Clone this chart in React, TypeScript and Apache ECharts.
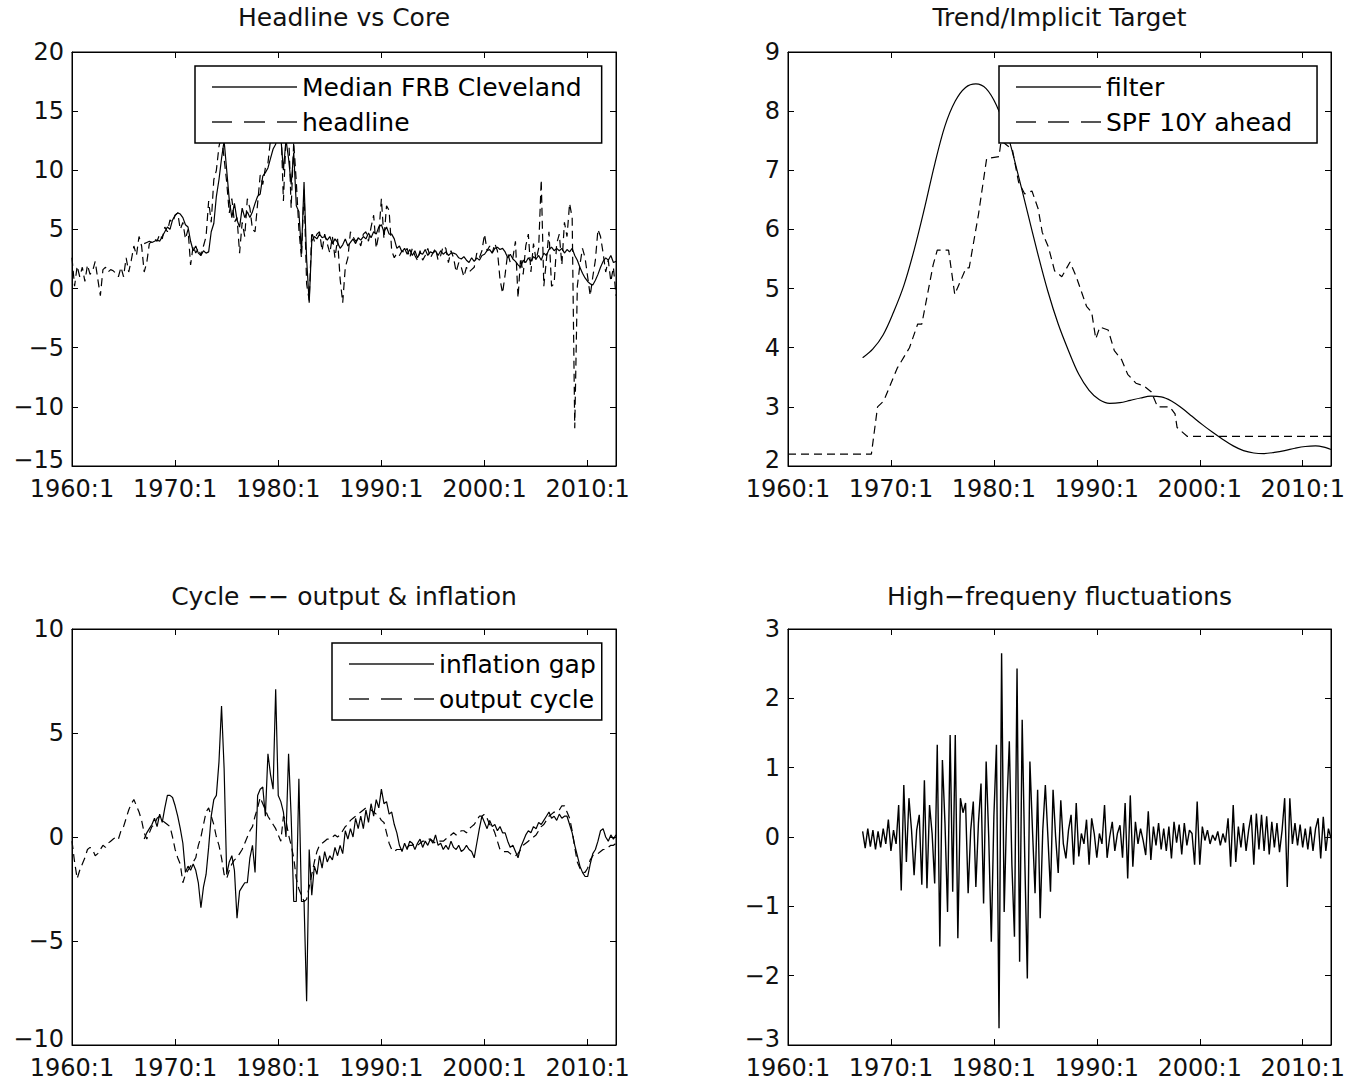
import React, { useEffect, useRef } from "react";
import * as echarts from "echarts";

// ---------------- DATA (quarterly, 1960:1 = 1960.00) ----------------
const xTickYears = [1960, 1970, 1980, 1990, 2000, 2010];

// Headline CPI inflation, 1960:1 - 2012:4
const headlineStart = 1960;
const headline = [
  2.6, 0.2, 1.9, 1.0, 1.8, 0.6, 2.0, 1.2, 1.5, 2.3, 0.8, -0.6, 1.6, 1.8, 1.4, 1.6,
  1.5, 1.3, 1.0, 1.8, 1.0, 2.6, 1.4, 2.4, 3.6, 2.8, 4.4, 3.6, 1.4, 2.2, 3.8, 4.0,
  4.2, 4.0, 4.6, 4.2, 5.2, 4.8, 5.8, 5.6, 6.2, 6.4, 5.0, 5.6, 4.2, 5.0, 2.0, 3.6,
  3.0, 3.4, 2.8, 3.6, 4.4, 7.4, 5.6, 9.2, 10.0, 12.0, 13.0, 11.0, 9.0, 6.4, 7.6, 5.6,
  6.0, 3.0, 5.6, 4.4, 7.6, 6.8, 5.0, 4.8, 7.2, 9.6, 8.8, 10.2, 10.6, 12.6, 13.6, 14.2,
  15.6, 14.0, 7.4, 12.8, 13.4, 6.8, 12.4, 9.0, 5.0, 2.6, 8.4, 0.4, -1.0, 4.8, 4.0, 4.6,
  4.8, 3.2, 4.6, 3.8, 3.0, 4.4, 2.6, 4.2, 0.8, -1.2, 1.8, 2.6, 4.8, 4.4, 4.0, 4.2,
  3.6, 4.6, 4.8, 4.0, 5.2, 6.2, 3.4, 4.6, 7.6, 4.2, 7.0, 6.6, 3.2, 2.6, 3.0, 2.8,
  3.2, 3.0, 3.4, 2.6, 3.4, 2.8, 2.4, 3.2, 2.4, 2.8, 3.4, 2.6, 3.0, 3.4, 2.4, 2.8,
  3.6, 3.4, 2.2, 3.2, 2.6, 1.4, 2.2, 1.8, 1.0, 1.8, 1.4, 1.6, 1.8, 3.0, 2.6, 3.2,
  4.6, 3.2, 3.6, 3.0, 3.8, 3.2, 0.8, -0.4, 1.2, 3.0, 2.2, 2.6, 4.0, -0.8, 2.6, 1.2,
  3.6, 4.6, 1.4, 3.8, 2.4, 3.4, 9.2, 0.2, 2.4, 4.8, 0.2, 0.4, 3.8, 4.6, 2.0, 5.6,
  4.4, 7.2, 6.0, -11.8, 0.2, 2.0, 3.4, 2.6, 1.0, -0.6, 1.0, 2.4, 5.0, 4.4, 3.0, 1.4,
  2.4, 0.6, 1.8, -0.6,
];

// Median CPI (FRB Cleveland), 1967:1 - 2012:4
const medianStart = 1967;
const medianCore = [
  3.8, 3.9, 4.0, 3.9, 4.0, 4.1, 4.0, 4.4, 4.8, 5.2, 5.0, 5.8, 6.2, 6.4, 6.3, 6.0,
  5.4, 5.2, 4.0, 3.2, 3.6, 3.0, 2.8, 3.2, 3.0, 3.1, 4.8, 5.5, 7.8, 9.2, 11.0, 12.5,
  10.0, 7.5, 6.0, 7.2, 5.8, 5.2, 6.8, 6.0, 6.5, 6.0, 6.5, 7.2, 7.8, 8.0, 9.5, 9.8,
  10.2, 11.0, 11.8, 12.2, 13.5, 12.8, 10.0, 12.6, 11.0, 8.8, 11.5, 7.0, 6.5, 3.0, 9.0, 2.5,
  -1.2, 4.0, 4.4, 4.2, 4.6, 4.3, 4.4, 4.1, 4.4, 3.8, 4.2, 3.9, 3.4, 3.7, 4.2, 3.6,
  3.9, 4.2, 3.8, 4.3, 4.1, 4.4, 4.2, 4.7, 4.3, 4.8, 4.6, 5.2, 5.4, 4.8, 5.2, 4.6,
  4.6, 4.2, 3.4, 3.6, 3.1, 3.4, 2.9, 3.3, 2.8, 3.2, 2.6, 3.0, 2.9, 3.3, 2.8, 3.1,
  3.0, 3.2, 2.8, 3.2, 2.9, 3.1, 2.8, 3.0, 3.0, 2.9, 2.6, 2.5, 2.7, 2.4, 2.2, 2.6,
  2.3, 2.6, 2.4, 2.8, 2.9, 3.2, 3.3, 3.0, 3.4, 3.5, 3.3, 3.4, 3.1, 2.6, 2.9, 2.5,
  2.3, 2.0, 1.8, 2.4, 2.2, 2.6, 2.3, 2.7, 2.5, 2.8, 2.4, 3.0, 2.8, 3.3, 3.5, 3.2,
  3.4, 3.2, 3.4, 3.0, 3.3, 3.1, 3.4, 2.8, 2.4, 1.8, 1.3, 0.9, 0.6, 0.4, 0.3, 0.7,
  1.2, 1.8, 2.3, 2.6, 2.4, 2.8, 2.2, 2.3,
];

// Filtered trend (year, value)
const filterYears = [
  1967.25, 1968.25, 1969.25, 1970.25, 1971.25, 1972.25, 1973.25, 1974.25, 1975.25, 1976.25,
  1977.25, 1978.25, 1979.25, 1980.25, 1981.25, 1982.25, 1983.25, 1984.25, 1985.25, 1986.25,
  1987.25, 1988.25, 1989.25, 1990.25, 1991.25, 1992.25, 1993.25, 1994.25, 1995.25, 1996.25,
  1997.25, 1998.25, 1999.25, 2000.25, 2001.25, 2002.25, 2003.25, 2004.25, 2005.25, 2006.25,
  2007.25, 2008.25, 2009.25, 2010.25, 2011.25, 2012.25, 2012.75,
];
const filterValues = [
  3.83, 3.98, 4.22, 4.6, 5.05, 5.65, 6.35, 7.1, 7.75, 8.17,
  8.4, 8.46, 8.38, 8.1, 7.65, 7.0, 6.3, 5.6, 4.95, 4.4,
  3.95, 3.55, 3.28, 3.12, 3.06, 3.07, 3.11, 3.15, 3.18, 3.17,
  3.1, 2.98, 2.84, 2.7, 2.57, 2.45, 2.34, 2.26, 2.22, 2.21,
  2.23, 2.26, 2.3, 2.33, 2.34, 2.31, 2.28,
];

// SPF 10-year-ahead expected inflation (year, value)
const spfYears = [
  1960, 1968.1, 1968.7, 1969.3, 1970.6, 1971.8, 1972.6, 1973.0, 1974.1, 1974.5,
  1975.6, 1976.2, 1977.3, 1977.6, 1978.5, 1979.3, 1980.5, 1980.7, 1981.8, 1982.4,
  1983.0, 1983.7, 1984.3, 1984.7, 1985.3, 1985.9, 1986.6, 1987.4, 1988.0, 1988.6,
  1989.0, 1989.5, 1989.9, 1990.3, 1991.1, 1991.7, 1992.4, 1993.0, 1993.8, 1994.6,
  1995.3, 1995.9, 1997.1, 1997.6, 1997.8, 1998.8, 2012.75,
];
const spfValues = [
  2.2, 2.2, 3.0, 3.1, 3.65, 4.0, 4.4, 4.4, 5.4, 5.65,
  5.65, 4.9, 5.35, 5.35, 6.25, 7.2, 7.23, 7.5, 7.35, 6.8,
  6.6, 6.65, 6.35, 5.95, 5.7, 5.3, 5.2, 5.45, 5.2, 4.9,
  4.7, 4.6, 4.15, 4.35, 4.3, 3.95, 3.8, 3.55, 3.4, 3.35,
  3.25, 3.0, 3.0, 2.88, 2.65, 2.5, 2.5,
];

// Inflation gap, 1967:1 - 2012:4
const gapStart = 1967;
const inflationGap = [
  -0.1, 0.2, 0.4, 0.6, 0.9, 0.5, 1.1, 0.7, 1.4, 2.0, 2.0, 1.9, 1.5, 1.0, 0.4, -0.3,
  -1.7, -1.4, -1.6, -1.3, -1.6, -2.2, -3.4, -2.4, -1.8, -0.5, 1.0, 1.8, 2.0, 3.6, 6.3, 3.3,
  -1.8, -1.2, -0.9, -1.6, -3.9, -2.6, -2.4, -2.2, -2.2, -1.0, -0.4, -1.7, 2.0, 2.3, 2.4, 1.0,
  4.0, 3.0, 2.3, 7.1, 2.0, 1.7, 1.2, 0.0, 4.0, 1.0, -3.1, -3.1, 2.8, -3.1, -3.1, -7.9,
  -0.6, -2.8, -1.4, -1.8, -0.9, -1.5, -0.7, -1.2, -0.9, -1.1, -0.5, -0.9, -0.4, -0.8, 0.3, -0.1,
  0.4, 0.0, 0.9, 0.4, 1.0, 0.4, 1.3, 0.7, 1.6, 1.0, 1.8, 1.4, 2.3, 1.6, 1.7, 1.1,
  1.2, 0.6, 0.2, -0.4, -0.7, -0.3, -0.6, -0.2, -0.3, -0.6, -0.3, -0.1, -0.5, -0.2, -0.4, -0.1,
  -0.3, 0.1, -0.4, -0.3, -0.6, -0.4, -0.6, -0.2, -0.5, -0.6, -0.4, -0.7, -0.6, -0.4, -0.6, -0.7,
  -1.0, -0.3, 0.4, 1.0, 0.7, 0.4, 0.8, 0.5, 0.6, 0.3, 0.5, 0.2, 0.2, -0.2, -0.5, -0.4,
  -0.7, -1.0, -0.5, -0.2, 0.1, 0.3, 0.2, 0.5, 0.4, 0.7, 0.6, 0.8, 1.0, 1.2, 0.9, 1.0,
  0.8, 1.1, 0.9, 1.0, 1.0, 0.6, 0.2, -0.4, -0.9, -1.4, -1.7, -1.9, -1.9, -1.3, -0.8, -0.6,
  -0.2, 0.3, 0.4, 0.0, -0.2, 0.1, -0.1, 0.1,
];

// Output cycle, 1960:1 - 2012:4
const outputStart = 1960;
const outputCycle = [
  -0.2, -1.2, -2.0, -1.6, -1.3, -1.0, -0.6, -0.5, -0.6, -0.9, -0.8, -0.6, -0.4, -0.5, -0.3, -0.2,
  -0.1, 0.0, -0.1, 0.3, 0.5, 0.9, 1.3, 1.6, 1.8, 1.5, 1.2, 0.8, 0.2, -0.1, 0.2, 0.5,
  0.6, 0.9, 1.0, 0.8, 0.7, 0.6, 0.5, 0.0, -0.6, -1.0, -1.3, -2.2, -1.8, -1.6, -1.4, -1.2,
  -1.0, -0.4, 0.0, 0.6, 1.2, 1.4, 1.0, 0.6, 0.0, -0.4, -1.0, -1.8, -2.0, -1.6, -1.3, -1.1,
  -1.0, -0.8, -0.6, -0.3, 0.0, 0.3, 0.5, 1.0, 1.4, 1.9, 1.6, 1.3, 1.0, 0.8, 0.6, 0.4,
  0.1, -0.2, 1.0, 0.8, 0.1, -0.4, -1.0, -2.0, -2.5, -2.8, -3.1, -3.0, -2.4, -1.8, -1.2, -0.7,
  -0.4, -0.3, -0.2, -0.1, -0.1, 0.0, 0.1, 0.0, 0.1, 0.3, 0.5, 0.6, 0.8, 0.9, 1.0, 1.1,
  1.2, 1.3, 1.4, 1.4, 1.3, 1.2, 1.1, 1.0, 0.8, 0.7, 0.2, -0.3, -0.6, -0.7, -0.6, -0.6,
  -0.6, -0.5, -0.5, -0.4, -0.4, -0.3, -0.4, -0.3, -0.2, -0.2, -0.1, -0.1, -0.2, -0.3, -0.2, -0.2,
  -0.2, -0.1, 0.0, 0.1, 0.2, 0.1, 0.2, 0.3, 0.3, 0.2, 0.4, 0.5, 0.6, 0.8, 1.0, 1.0,
  1.1, 0.9, 0.6, 0.5, 0.2, -0.2, -0.6, -0.7, -0.7, -0.7, -0.8, -0.9, -0.9, -0.8, -0.6, -0.4,
  -0.3, -0.2, -0.1, 0.0, 0.1, 0.3, 0.5, 0.6, 0.8, 1.0, 1.1, 1.2, 1.2, 1.3, 1.5, 1.5,
  1.2, 0.9, 0.3, -0.5, -1.2, -1.5, -1.7, -1.7, -1.5, -1.1, -0.9, -0.8, -0.8, -0.7, -0.6, -0.6,
  -0.5, -0.4, -0.4, -0.3,
];

// High-frequency fluctuations, 1967:2 - 2012:4
const hfStart = 1967.25;
const highFreq = [
  0.08, -0.16, 0.12,
  -0.14, 0.1, -0.18, 0.08, -0.15, 0.12, -0.1, 0.25, -0.2, 0.1, -0.1, 0.46,
  -0.77, 0.75, -0.36, 0.56, 0.1, -0.55, 0.1, 0.32, -0.69, 0.82, -0.74, 0.46,
  0.05, -0.67, 1.33, -1.58, 1.11, 0.2, -1.08, 1.47, -0.79, 1.47, -1.46, 0.56,
  0.35, 0.49, -0.81, 0.1, 0.51, -0.72, 0.2, 0.77, -0.96, 1.09, 0.0, -1.51,
  0.3, 1.33, -2.76, 2.65, -1.08, 0.4, 1.38, -0.4, -1.44, 2.43, -1.8, 1.69,
  -0.3, -2.04, 1.09, 0.1, -0.81, 0.68, -1.17, 0.1, 0.75, 0.0, -0.79, 0.68,
  0.0, -0.52, 0.53, -0.1, -0.31, 0.1, 0.32, -0.4, 0.49, -0.28, 0.05, -0.1,
  0.25, -0.4, 0.27, 0.05, -0.3, 0.05, -0.1, 0.46, -0.3, 0.0, 0.22, -0.2,
  0.05, 0.17, -0.3, 0.49, -0.6, 0.6, -0.43, 0.22, -0.1, 0.12, -0.05, -0.26,
  0.37, -0.33, 0.15, -0.12, 0.2, -0.18, 0.12, -0.2, 0.15, -0.31, 0.22, -0.08,
  0.18, -0.25, 0.2, -0.12, 0.1, 0.05, -0.4, 0.51, -0.4, 0.15, -0.05, 0.1,
  -0.1, 0.03, -0.05, 0.08, -0.12, 0.05, -0.08, 0.27, -0.43, 0.46, -0.36, 0.15,
  -0.15, 0.2, -0.2, 0.1, 0.32, -0.4, 0.34, -0.18, 0.32, -0.2, 0.3, -0.25,
  0.22, -0.15, 0.2, -0.22, 0.1, 0.56, -0.72, 0.56, -0.1, 0.2, -0.12, 0.18,
  -0.15, 0.12, -0.18, 0.15, -0.2, 0.12, 0.27, -0.31, 0.29, -0.2, 0.12, -0.02,
];

// ---------------- HELPERS ----------------
const quarterly = (start: number, values: number[]) =>
  values.map((v, i) => [start + i / 4, v]);
const paired = (xs: number[], ys: number[]) => xs.map((x, i) => [x, ys[i]]);

const FONT = "'DejaVu Sans', 'Liberation Sans', Arial, sans-serif";
const X_MIN = 1960;
const X_MAX = 2012.75;

const panels = [
  { left: 72, top: 52, width: 544, height: 414, yMin: -15, yMax: 20, yInt: 5, title: "Headline vs Core", titleTop: 5 },
  { left: 788, top: 52, width: 543, height: 414, yMin: 2, yMax: 9, yInt: 1, title: "Trend/Implicit Target", titleTop: 5 },
  { left: 72, top: 629, width: 544, height: 416, yMin: -10, yMax: 10, yInt: 5, title: "Cycle \u2212\u2212 output & inflation", titleTop: 584 },
  { left: 788, top: 629, width: 543, height: 416, yMin: -3, yMax: 3, yInt: 1, title: "High\u2212frequeny fluctuations", titleTop: 584 },
];

const SOLID_ICON = "path://M0,0H85V2H0Z";
const DASH_ICON = "path://M0,0H20V2H0Z M32,0H53V2H32Z M65,0H85V2H65Z";

function buildOption() {
  const grid: any[] = [];
  const xAxis: any[] = [];
  const yAxis: any[] = [];
  const title: any[] = [];
  panels.forEach((p, i) => {
    grid.push({
      left: p.left, top: p.top, width: p.width, height: p.height,
      show: true, borderColor: "#000", borderWidth: 1, backgroundColor: "transparent",
    });
    const tick = { show: true, inside: true, length: 6, lineStyle: { color: "#000", width: 1 } };
    const line = { show: true, onZero: false, lineStyle: { color: "#000", width: 1 } };
    xAxis.push({
      type: "value", gridIndex: i, min: X_MIN, max: X_MAX, interval: 10, position: "bottom",
      axisLine: line, axisTick: tick, splitLine: { show: false },
      axisLabel: {
        show: true, margin: 12, fontSize: 24, lineHeight: 22, fontFamily: FONT, color: "#111",
        formatter: (v: number) => (xTickYears.indexOf(v) >= 0 ? `${v}:1` : ""),
      },
    });
    xAxis.push({
      type: "value", gridIndex: i, min: X_MIN, max: X_MAX, interval: 10, position: "top",
      axisLine: line, axisTick: tick, splitLine: { show: false }, axisLabel: { show: false },
    });
    const yMinVal = p.yMin;
    yAxis.push({
      type: "value", gridIndex: i, min: p.yMin, max: p.yMax, interval: p.yInt, position: "left",
      axisLine: line, axisTick: tick, splitLine: { show: false },
      axisLabel: {
        show: true, margin: 8, fontSize: 24, lineHeight: 20, fontFamily: FONT, color: "#111",
        formatter: (v: number) => {
          const s = String(v).replace("-", "\u2212");
          return v === yMinVal ? `{low|${s}}` : s;
        },
        rich: {
          low: { fontSize: 24, lineHeight: 20, fontFamily: FONT, color: "#111", padding: [0, 0, 12, 0] },
        },
      },
    });
    yAxis.push({
      type: "value", gridIndex: i, min: p.yMin, max: p.yMax, interval: p.yInt, position: "right",
      axisLine: line, axisTick: tick, splitLine: { show: false }, axisLabel: { show: false },
    });
    title.push({
      text: p.title, left: p.left + p.width / 2, top: p.titleTop, textAlign: "center", padding: 0,
      textStyle: { fontSize: 25, fontWeight: "normal", color: "#111", fontFamily: FONT },
    });
  });

  const lineSeries = (name: string, panel: number, data: number[][], dashed: boolean, width = 1.2, smooth: any = false) => ({
    name, type: "line", xAxisIndex: panel * 2, yAxisIndex: panel * 2, data,
    symbol: "none", showSymbol: false, smooth, clip: true, z: 2,
    lineStyle: { color: "#000", width, type: dashed ? [8, 5] : "solid" },
    itemStyle: { color: "#000" },
    emphasis: { disabled: true },
  });

  const series = [
    lineSeries("Median FRB Cleveland", 0, quarterly(medianStart, medianCore), false),
    lineSeries("headline", 0, quarterly(headlineStart, headline), true),
    lineSeries("filter", 1, paired(filterYears, filterValues), false, 1.2, 0.35),
    lineSeries("SPF 10Y ahead", 1, paired(spfYears, spfValues), true),
    lineSeries("inflation gap", 2, quarterly(gapStart, inflationGap), false),
    lineSeries("output cycle", 2, quarterly(outputStart, outputCycle), true),
    lineSeries("high-frequency", 3, quarterly(hfStart, highFreq), false, 1.4),
  ];

  const legendBase = {
    orient: "vertical", itemWidth: 85, itemHeight: 2, itemGap: 3,
    borderColor: "#000", borderWidth: 1.5, backgroundColor: "#fff", borderRadius: 0,
    selectedMode: false, z: 10,
    itemStyle: { color: "#555", borderWidth: 0 },
    textStyle: { fontSize: 25, lineHeight: 32, color: "#000", fontFamily: FONT },
  };
  const legend = [
    { ...legendBase, left: 195, top: 66, padding: [5, 20, 5, 17],
      data: [{ name: "Median FRB Cleveland", icon: SOLID_ICON }, { name: "headline", icon: DASH_ICON }] },
    { ...legendBase, left: 999, top: 66, padding: [5, 25, 5, 17],
      data: [{ name: "filter", icon: SOLID_ICON }, { name: "SPF 10Y ahead", icon: DASH_ICON }] },
    { ...legendBase, left: 332, top: 643, padding: [5, 6, 5, 17],
      data: [{ name: "inflation gap", icon: SOLID_ICON }, { name: "output cycle", icon: DASH_ICON }] },
  ];

  return {
    animation: false,
    backgroundColor: "#fff",
    textStyle: { fontFamily: FONT },
    title, grid, xAxis, yAxis, legend, series,
  };
}

export default function App() {
  const ref = useRef<HTMLDivElement>(null);
  useEffect(() => {
    if (!ref.current) return;
    const chart = echarts.init(ref.current, null, { renderer: "svg" });
    chart.setOption(buildOption() as any);
    return () => chart.dispose();
  }, []);
  return (
    <div
      ref={ref}
      style={{ position: "absolute", left: 0, top: 0, width: 1370, height: 1081, background: "#fff" }}
    />
  );
}
